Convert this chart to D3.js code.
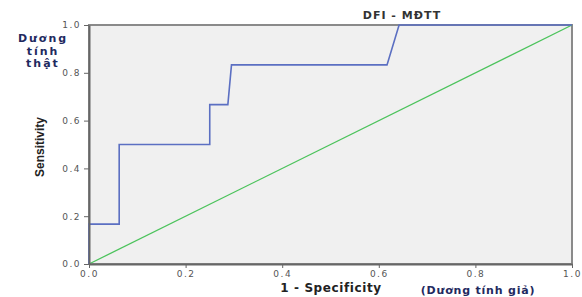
<!DOCTYPE html>
<html>
<head>
<meta charset="utf-8">
<script src="https://d3js.org/d3.v7.min.js"></script>
<style>
  body { margin: 0; background: #fff; }
  .axis text { fill: #555; font-family: "DejaVu Sans", sans-serif; font-size: 9px; letter-spacing: 1.5px; }
  .axis line, .axis path { stroke: #666; }
</style>
</head>
<body>
<svg id="roc" width="582" height="297"></svg>
<script>
// ROC curve
var fpr = [0, 0, 0.0625, 0.0625, 0.25, 0.25, 0.2875, 0.295, 0.617, 0.642, 1.0];
var tpr = [0, 0.167, 0.167, 0.5, 0.5, 0.667, 0.667, 0.833, 0.833, 1.0, 1.0];
var refX = [0, 1];
var refY = [0, 1];
var ticks = [0, 0.2, 0.4, 0.6, 0.8, 1.0];

var margin = { top: 25, right: 10, bottom: 33, left: 89 }
  , width = 582 - margin.left - margin.right
  , height = 297 - margin.top - margin.bottom;

var svg = d3.select("#roc");
var g = svg.append("g").attr("transform", "translate(" + margin.left + "," + margin.top + ")");

var x = d3.scaleLinear().domain([0, 1]).range([0, width]);
var y = d3.scaleLinear().domain([0, 1]).range([height, 0]);

// plot background + frame
g.append("rect")
  .attr("width", width).attr("height", height)
  .attr("fill", "#f0f0f0")
  .attr("stroke", "#8a8a8a").attr("stroke-width", 2);

// reference diagonal
g.append("path")
  .datum(d3.zip(refX, refY))
  .attr("fill", "none")
  .attr("stroke", "#4cc35c")
  .attr("stroke-width", 1.3)
  .attr("d", d3.line().x(d => x(d[0])).y(d => y(d[1])));

// roc curve
g.append("path")
  .datum(d3.zip(fpr, tpr))
  .attr("fill", "none")
  .attr("stroke", "#5b6fc2")
  .attr("stroke-width", 1.6)
  .attr("d", d3.line().x(d => x(d[0])).y(d => y(d[1])));

// axes
var xa = g.append("g")
  .attr("class", "axis")
  .attr("transform", "translate(0," + height + ")")
  .call(d3.axisBottom(x).tickValues(ticks).tickFormat(d3.format(".1f")).tickSize(4).tickSizeOuter(0));
xa.select(".domain").attr("stroke", "#777").attr("stroke-width", 2);

var ya = g.append("g")
  .attr("class", "axis")
  .call(d3.axisLeft(y).tickValues(ticks).tickFormat(d3.format(".1f")).tickSize(5).tickSizeOuter(0));
ya.select(".domain").attr("stroke", "#2a3060").attr("stroke-width", 2);

// labels
svg.append("text")
  .attr("x", 402).attr("y", 19)
  .attr("text-anchor", "middle")
  .style("font-family", "'DejaVu Sans', sans-serif")
  .style("font-weight", "bold").style("font-size", "11px")
  .style("letter-spacing", "1px")
  .style("fill", "#333")
  .text("DFI - MĐTT");

svg.append("text")
  .attr("x", 331).attr("y", 292)
  .attr("text-anchor", "middle")
  .style("font-family", "'DejaVu Sans', sans-serif")
  .style("font-weight", "bold").style("font-size", "12px")
  .style("letter-spacing", "0.6px")
  .style("fill", "#222")
  .text("1 - Specificity");

svg.append("text")
  .attr("x", 478).attr("y", 294)
  .attr("text-anchor", "middle")
  .style("font-family", "'DejaVu Sans', sans-serif")
  .style("font-weight", "bold").style("font-size", "11px")
  .style("letter-spacing", "0.8px")
  .style("fill", "#1f2a60")
  .text("(Dương tính giả)");

svg.append("text")
  .attr("transform", "translate(44,147) rotate(-90)")
  .attr("text-anchor", "middle")
  .style("font-family", "'Liberation Sans Narrow', 'Liberation Sans', sans-serif")
  .style("font-weight", "bold").style("font-size", "12px")
  .style("fill", "#222")
  .text("Sensitivity");

var lbl = svg.append("text")
  .attr("text-anchor", "middle")
  .style("font-family", "'DejaVu Sans', sans-serif")
  .style("font-weight", "bold").style("font-size", "11px")
  .style("letter-spacing", "2px")
  .style("fill", "#1f2a60");
["Dương", "tính", "thật"].forEach(function (w, i) {
  lbl.append("tspan").attr("x", 43).attr("y", 42 + i * 12.5).text(w);
});
</script>
</body>
</html>
